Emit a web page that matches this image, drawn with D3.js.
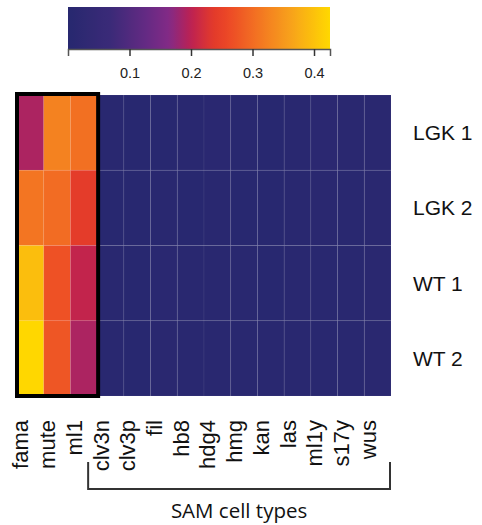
<!DOCTYPE html>
<html>
<head>
<meta charset="utf-8">
<script src="https://cdn.jsdelivr.net/npm/d3@7"></script>
<style>
  html, body { margin: 0; padding: 0; background: #fff; }
  svg { display: block; }
</style>
</head>
<body>
<svg id="chart" width="482" height="525"></svg>
<script>
// Samples (rows) and cell-type markers (columns)
const samples = ["LGK 1", "LGK 2", "WT 1", "WT 2"];
const cellTypes = ["fama", "mute", "ml1", "clv3n", "clv3p", "fil", "hb8", "hdg4", "hmg", "kan", "las", "ml1y", "s17y", "wus"];
const stomatalTypes = ["fama", "mute", "ml1"];

// Per-sample scores, one value per cell type
const lgk1 = [0.190, 0.325, 0.305, 0.006, 0.004, 0.005, 0.008, 0.012, 0.006, 0.004, 0.007, 0.014, 0.010, 0.011];
const lgk2 = [0.310, 0.300, 0.240, 0.005, 0.004, 0.006, 0.004, 0.007, 0.005, 0.004, 0.006, 0.009, 0.008, 0.011];
const wt1  = [0.395, 0.270, 0.205, 0.006, 0.005, 0.012, 0.006, 0.008, 0.006, 0.005, 0.006, 0.008, 0.007, 0.010];
const wt2  = [0.425, 0.275, 0.190, 0.006, 0.005, 0.011, 0.007, 0.008, 0.006, 0.008, 0.006, 0.007, 0.006, 0.009];

// Colour-key ticks and colour ramp stops
const legendTicks = [0.1, 0.2, 0.3, 0.4];
const legendDomain = [0, 0.426];
const rampStops = [0, 0.07, 0.13, 0.165, 0.2, 0.235, 0.26, 0.3, 0.36, 0.426];
const rampColors = ["#27286f", "#3b2a78", "#672a84", "#832a86", "#bd2152", "#e2392b", "#ec4826", "#f26c23", "#f7a01c", "#ffd800"];

const rows = [lgk1, lgk2, wt1, wt2];
const cells = [];
rows.forEach((vals, r) => vals.forEach((v, c) => cells.push({ sample: samples[r], type: cellTypes[c], value: v })));

const svg = d3.select("#chart");

const color = d3.scaleLinear().domain(rampStops).range(rampColors)
  .interpolate(d3.interpolateRgb).clamp(true);

// Heatmap
const x = d3.scaleBand().domain(cellTypes).range([17, 391]);
const y = d3.scaleBand().domain(samples).range([95, 396]);

svg.append("g").selectAll("rect")
  .data(cells)
  .join("rect")
  .attr("x", d => x(d.type))
  .attr("y", d => y(d.sample))
  .attr("width", x.bandwidth())
  .attr("height", y.bandwidth())
  .attr("fill", d => color(d.value))
  .attr("stroke", "#ffffff")
  .attr("stroke-opacity", 0.06)
  .attr("stroke-width", 1);

// Outline around the stomatal-lineage columns
const boxX0 = x(stomatalTypes[0]);
const boxX1 = x(stomatalTypes[stomatalTypes.length - 1]) + x.bandwidth();
svg.append("rect")
  .attr("x", boxX0)
  .attr("y", y.range()[0] - 1)
  .attr("width", boxX1 - boxX0 + 1)
  .attr("height", y.range()[1] - y.range()[0] + 1)
  .attr("fill", "none")
  .attr("stroke", "#000")
  .attr("stroke-width", 4);

// Row labels
svg.append("g").selectAll("text")
  .data(samples)
  .join("text")
  .attr("x", 413)
  .attr("y", d => y(d) + y.bandwidth() / 2)
  .attr("dy", "0.36em")
  .attr("font-family", "'Liberation Sans', Arial, sans-serif")
  .attr("font-size", 21)
  .attr("fill", "#111")
  .text(d => d);

// Column labels, rotated
svg.append("g").selectAll("text")
  .data(cellTypes)
  .join("text")
  .attr("transform", d => `translate(${x(d) + x.bandwidth() / 2 - 2},420) rotate(-90)`)
  .attr("text-anchor", "end")
  .attr("font-family", "'Liberation Sans', Arial, sans-serif")
  .attr("font-size", 22)
  .attr("fill", "#111")
  .text(d => d);

// Bracket under the SAM cell types
const samTypes = cellTypes.filter(t => !stomatalTypes.includes(t));
const brX0 = x(samTypes[0]) - 9;
const brX1 = x(samTypes[samTypes.length - 1]) + x.bandwidth() - 1;
svg.append("path")
  .attr("d", `M${brX0},462V489H${brX1}V462`)
  .attr("fill", "none")
  .attr("stroke", "#333")
  .attr("stroke-width", 2);

svg.append("text")
  .attr("x", (brX0 + brX1) / 2)
  .attr("y", 518)
  .attr("text-anchor", "middle")
  .attr("font-family", "'Open Sans', sans-serif")
  .attr("font-size", 20.5)
  .attr("fill", "#111")
  .text("SAM cell types");

// Colour key
const lx = d3.scaleLinear().domain(legendDomain).range([68, 330]);
const defs = svg.append("defs");
const grad = defs.append("linearGradient").attr("id", "keyRamp")
  .attr("x1", "0%").attr("x2", "100%").attr("y1", "0%").attr("y2", "0%");
d3.range(0, 1.0001, 0.02).forEach(t => {
  grad.append("stop")
    .attr("offset", `${t * 100}%`)
    .attr("stop-color", color(legendDomain[0] + t * (legendDomain[1] - legendDomain[0])));
});
svg.append("rect")
  .attr("x", lx.range()[0])
  .attr("y", 7)
  .attr("width", lx.range()[1] - lx.range()[0])
  .attr("height", 42)
  .attr("fill", "url(#keyRamp)");

const keyAxis = svg.append("g")
  .attr("transform", "translate(0,49)")
  .call(d3.axisBottom(lx).tickValues(legendTicks).tickFormat(d3.format(".1f")).tickSize(7).tickPadding(12));
keyAxis.select(".domain").attr("stroke", "#555").attr("stroke-width", 1.5);
keyAxis.selectAll(".tick line").attr("stroke", "#333").attr("stroke-width", 1.5);
keyAxis.selectAll(".tick text")
  .attr("font-family", "'Liberation Sans', Arial, sans-serif")
  .attr("font-size", 14.5)
  .attr("fill", "#222");
</script>
</body>
</html>
